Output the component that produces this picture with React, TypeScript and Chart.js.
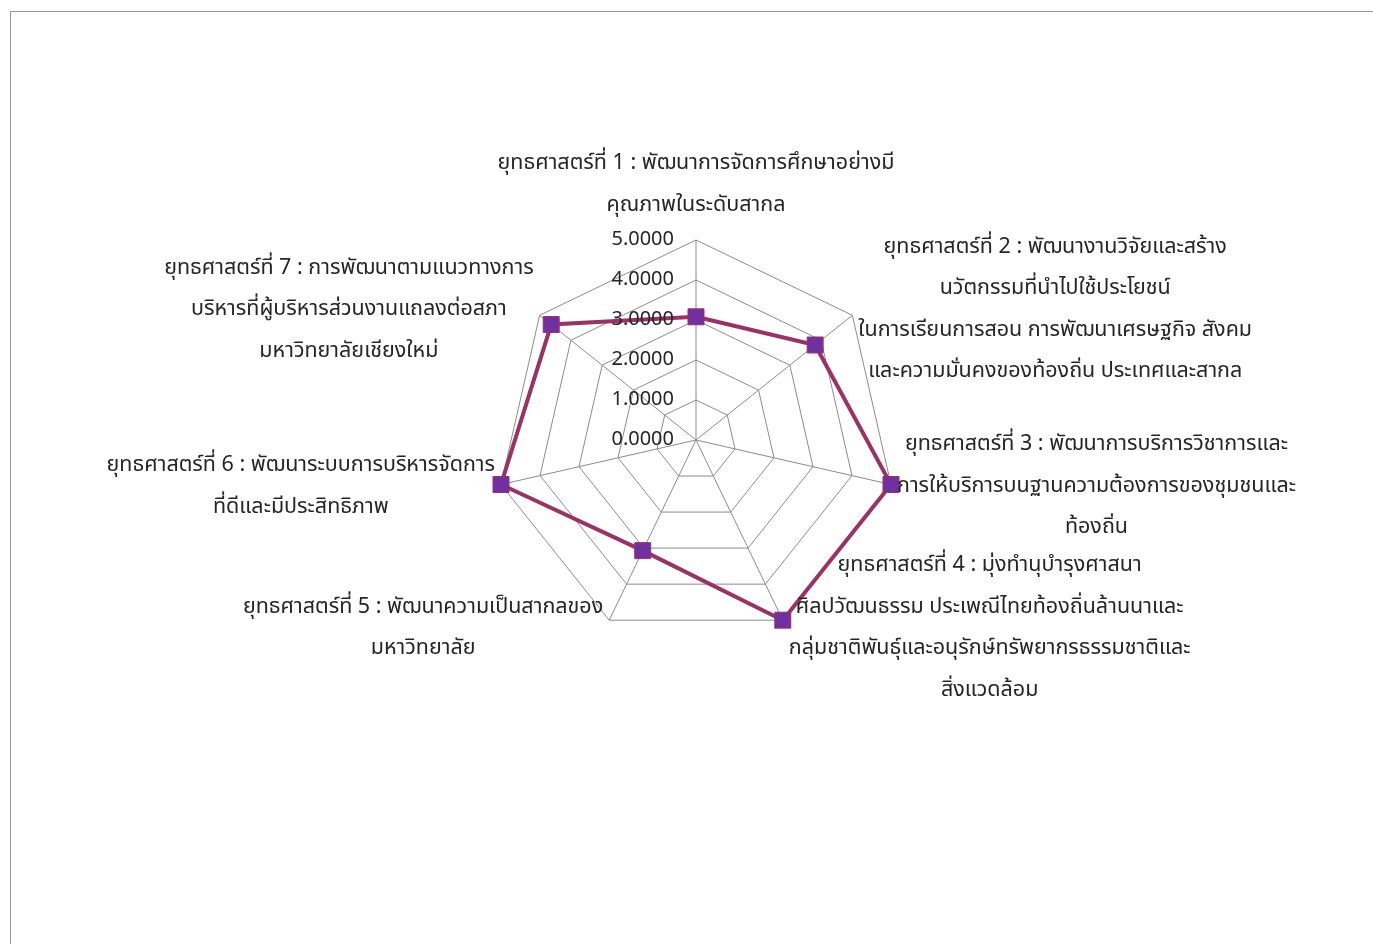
import React, { useEffect, useRef } from "react";
import { Chart, registerables } from "chart.js";

Chart.register(...registerables);

const categories: string[][] = [
  ["ยุทธศาสตร์ที่ 1 : พัฒนาการจัดการศึกษาอย่างมี", "คุณภาพในระดับสากล"],
  [
    "ยุทธศาสตร์ที่ 2 : พัฒนางานวิจัยและสร้าง",
    "นวัตกรรมที่นำไปใช้ประโยชน์",
    "ในการเรียนการสอน การพัฒนาเศรษฐกิจ สังคม",
    "และความมั่นคงของท้องถิ่น ประเทศและสากล",
  ],
  [
    "ยุทธศาสตร์ที่ 3 : พัฒนาการบริการวิชาการและ",
    "การให้บริการบนฐานความต้องการของชุมชนและ",
    "ท้องถิ่น",
  ],
  [
    "ยุทธศาสตร์ที่ 4 : มุ่งทำนุบำรุงศาสนา",
    "ศิลปวัฒนธรรม ประเพณีไทยท้องถิ่นล้านนาและ",
    "กลุ่มชาติพันธุ์และอนุรักษ์ทรัพยากรธรรมชาติและ",
    "สิ่งแวดล้อม",
  ],
  ["ยุทธศาสตร์ที่ 5 : พัฒนาความเป็นสากลของ", "มหาวิทยาลัย"],
  ["ยุทธศาสตร์ที่ 6 : พัฒนาระบบการบริหารจัดการ", "ที่ดีและมีประสิทธิภาพ"],
  [
    "ยุทธศาสตร์ที่ 7 : การพัฒนาตามแนวทางการ",
    "บริหารที่ผู้บริหารส่วนงานแถลงต่อสภา",
    "มหาวิทยาลัยเชียงใหม่",
  ],
];

const values: number[] = [3.08, 3.81, 5.0, 5.0, 3.07, 5.0, 4.63];

const tickValues: number[] = [0, 1, 2, 3, 4, 5];
const tickLabels: string[] = ["0.0000", "1.0000", "2.0000", "3.0000", "4.0000", "5.0000"];

const FONT = '"Leelawadee UI", Tahoma, "Noto Sans Thai", "Noto Sans", "DejaVu Sans", sans-serif';
const TEXT_COLOR = "#262626";

const labelPlugin = {
  id: "customLabels",
  afterDraw(chart: any) {
    const scale = chart.scales.r;
    const ctx = chart.ctx;
    ctx.save();
    ctx.fillStyle = TEXT_COLOR;
    ctx.textBaseline = "middle";
    // tick labels
    ctx.font = `20px ${FONT}`;
    ctx.textAlign = "right";
    tickValues.forEach((v, i) => {
      const d = scale.getDistanceFromCenterForValue(v);
      ctx.fillText(tickLabels[i], scale.xCenter - 22, scale.yCenter - d + 1);
    });
    // point labels
    ctx.font = `21.5px ${FONT}`;
    const lineH = 41.5;
    categories.forEach((lines, i) => {
      const p = scale.getPointPosition(i, scale.drawingArea);
      const cx = Math.cos(p.angle);
      const sy = Math.sin(p.angle);
      const widths = lines.map((l) => ctx.measureText(l).width);
      const W = Math.max(...widths);
      const H = lines.length * lineH;
      let left: number;
      let top: number;
      const gap = 6;
      if (cx > 0.2) {
        left = p.x + gap;
        top = p.y - H / 2 + sy * 9;
      } else if (cx < -0.2) {
        left = p.x - gap - W;
        top = p.y - H / 2 + sy * 9;
      } else {
        left = p.x - W / 2;
        top = p.y - 14 - H;
      }
      ctx.textAlign = "center";
      lines.forEach((l, j) => {
        ctx.fillText(l, left + W / 2, top + lineH * j + lineH / 2 + 1);
      });
    });
    ctx.restore();
  },
};

export default function App() {
  const ref = useRef<HTMLCanvasElement | null>(null);
  useEffect(() => {
    if (!ref.current) return;
    const chart = new Chart(ref.current, {
      type: "radar",
      data: {
        labels: categories.map((c) => c.join(" ")),
        datasets: [
          {
            data: values,
            borderColor: "#993366",
            borderWidth: 4,
            backgroundColor: "rgba(0,0,0,0)",
            fill: false,
            pointStyle: "rect",
            pointRadius: 11.3,
            pointHoverRadius: 11.3,
            pointBackgroundColor: "#7030A0",
            pointBorderColor: "#993366",
            pointBorderWidth: 1,
          },
        ],
      },
      options: {
        animation: false,
        responsive: true,
        maintainAspectRatio: false,
        layout: { padding: { left: 400, right: 381, top: 232, bottom: 296 } },
        plugins: { legend: { display: false }, tooltip: { enabled: false } },
        elements: { line: { tension: 0 } },
        scales: {
          r: {
            min: 0,
            max: 5,
            ticks: { stepSize: 1, display: false },
            grid: { color: "#8c8c8c", lineWidth: 1 },
            angleLines: { color: "#8c8c8c", lineWidth: 1 },
            pointLabels: { display: false },
          },
        },
      },
      plugins: [labelPlugin],
    });
    return () => chart.destroy();
  }, []);
  return (
    <div style={{ position: "relative", width: 1357, height: 928 }}>
      <div
        style={{
          position: "fixed",
          left: 10,
          top: 11,
          right: 0,
          bottom: 0,
          borderLeft: "1px solid #9a9a9a",
          borderTop: "1px solid #9a9a9a",
          boxSizing: "border-box",
        }}
      />
      <div style={{ position: "absolute", left: 0, top: 0, width: 1357, height: 928 }}>
        <canvas ref={ref} />
      </div>
    </div>
  );
}
